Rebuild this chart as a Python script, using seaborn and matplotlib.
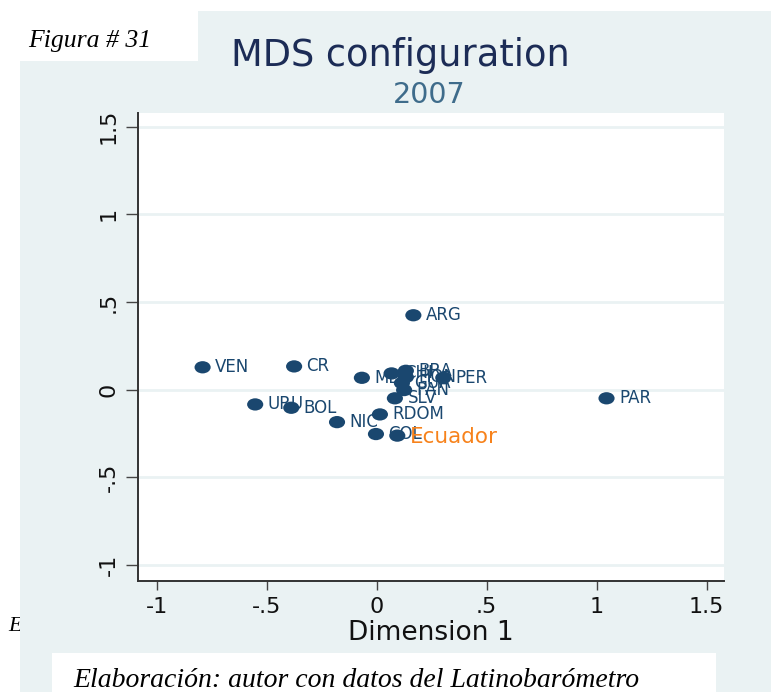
import matplotlib
matplotlib.use('Agg')
import matplotlib.pyplot as plt
import seaborn as sns
import pandas as pd
from matplotlib.path import Path
from matplotlib.markers import MarkerStyle
from matplotlib.patches import Rectangle


# ==========================================
# DATOS
# ==========================================

paises = ['VEN', 'CR', 'MEX', 'URU', 'BOL', 'NIC', 'ARG', 'RDOM', 'COL',
          'ECU', 'PAR', 'CHI', 'BRA', 'HON', 'GUA', 'PAN', 'SLV', 'PER']
dim1 = [-0.791, -0.375, -0.067, -0.552, -0.388, -0.180, 0.167, 0.015, -0.003,
        0.094, 1.045, 0.068, 0.133, 0.133, 0.115, 0.125, 0.083, 0.303]
dim2 = [0.127, 0.132, 0.067, -0.085, -0.104, -0.186, 0.424, -0.142, -0.254,
        -0.263, -0.050, 0.092, 0.107, 0.071, 0.037, -0.003, -0.050, 0.067]

destacado = 'ECU'
etiqueta_destacado = 'Ecuador'

ticks = [-1, -0.5, 0, 0.5, 1, 1.5]
tick_labels = ['-1', '-.5', '0', '.5', '1', '1.5']

df = pd.DataFrame({'pais': paises, 'dim1': dim1, 'dim2': dim2})


# ==========================================
# ESTILO
# ==========================================

W, H = 771, 692
navy = '#1a476f'
panel = '#eaf2f3'

sns.set_theme(style='white')
plt.rcParams['font.family'] = ['DejaVu Sans']

fig = plt.figure(figsize=(W / 100, H / 100), dpi=100)
fig.patch.set_facecolor('white')

# fondo de la region del grafico (Stata s2color)
fig.patches.append(Rectangle((20 / W, 0), 1 - 20 / W, 1 - 11 / H,
                             transform=fig.transFigure, facecolor=panel,
                             edgecolor='none', zorder=-1))
# recuadros blancos del documento
fig.patches.append(Rectangle((0, 1 - 61 / H), 198 / W, 61 / H,
                             transform=fig.transFigure, facecolor='white',
                             edgecolor='none', zorder=-0.5))
fig.patches.append(Rectangle((52 / W, 0), (716 - 52) / W, (692 - 653) / H,
                             transform=fig.transFigure, facecolor='white',
                             edgecolor='none', zorder=-0.5))

ax = fig.add_axes([137.7 / W, 1 - 580.7 / H, (724 - 137.7) / W,
                   (580.7 - 112.7) / H])
ax.set_facecolor('white')


# ==========================================
# PUNTOS
# ==========================================

circ = Path.unit_circle()
elipse = Path(circ.vertices * [1.0, 0.76], circ.codes)

sns.scatterplot(
    data=df,
    x='dim1',
    y='dim2',
    ax=ax,
    marker=MarkerStyle(elipse),
    s=135,
    color=navy,
    edgecolor='none',
    linewidth=0,
    zorder=3,
    legend=False
)

for p, x, y in zip(paises, dim1, dim2):
    if p == destacado:
        ax.annotate(etiqueta_destacado, (x, y), xytext=(9, -1),
                    textcoords='offset points', va='center', ha='left',
                    fontsize=15.5, color='#f7821b', zorder=4)
    else:
        ax.annotate(p, (x, y), xytext=(9, 0), textcoords='offset points',
                    va='center', ha='left', fontsize=12, color=navy,
                    zorder=2)


# ==========================================
# EJES
# ==========================================

ax.set_xlim(-1.086, 1.579)
ax.set_ylim(-1.091, 1.580)
ax.set_xticks(ticks)
ax.set_xticklabels(tick_labels)
ax.set_yticks(ticks)
ax.set_yticklabels(tick_labels, rotation=90, va='center')
ax.set_xlabel('')
ax.set_ylabel('')

ax.yaxis.grid(True, color=panel, linewidth=2)
ax.xaxis.grid(False)
ax.set_axisbelow(True)

for lado in ['top', 'right']:
    ax.spines[lado].set_visible(False)
for lado in ['left', 'bottom']:
    ax.spines[lado].set_color('#333333')
    ax.spines[lado].set_linewidth(1.4)

ax.tick_params(axis='x', direction='out', length=6.3, width=1.0,
               color='#444444', labelsize=16, labelcolor='#111111', pad=5.5,
               bottom=True)
ax.tick_params(axis='y', direction='out', length=8.4, width=1.0,
               color='#444444', labelsize=16, labelcolor='#111111', pad=5.5,
               left=True)


# ==========================================
# TEXTOS
# ==========================================

fig.text(400 / W, 1 - 66 / H, 'MDS configuration', ha='center',
         va='baseline', fontsize=26.5, color='#1c2c56')
fig.text(429 / W, 1 - 103 / H, '2007', ha='center', va='baseline',
         fontsize=20.5, color='#3f6c8b')
fig.text(431 / W, 1 - 640 / H, 'Dimension 1', ha='center', va='baseline',
         fontsize=19, color='#111111')

fig.text(28 / W, 1 - 47 / H, 'Figura # 31', ha='left', va='baseline',
         fontsize=18.5, family='Liberation Serif', style='italic',
         color='black')
fig.text(8 / W, 1 - 631 / H, 'E', ha='left', va='baseline', fontsize=16,
         family='Liberation Serif', style='italic', color='black',
         zorder=-2)
fig.text(73 / W, 1 - 687 / H,
         'Elaboración: autor con datos del Latinobarómetro', ha='left',
         va='baseline', fontsize=20, family='Liberation Serif',
         style='italic', color='black')

fig.savefig('out.png', dpi=100)
